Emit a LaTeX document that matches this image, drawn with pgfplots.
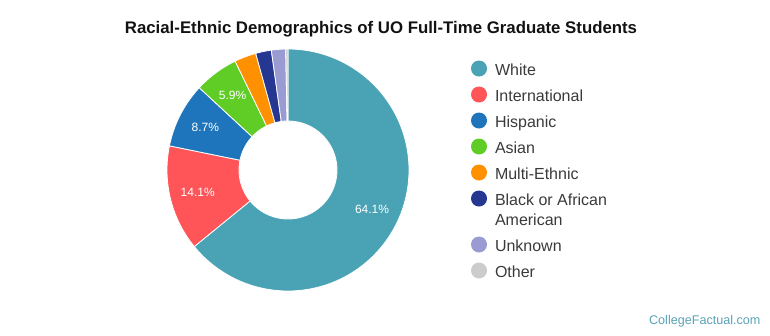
\documentclass[border=0pt]{standalone}
\usepackage{fontspec}
\setmainfont{Liberation Sans}
\usepackage{pgfplots}
\pgfplotsset{compat=1.18}
\definecolor{cWhite}{RGB}{74,163,181}
\definecolor{cIntl}{RGB}{255,84,88}
\definecolor{cHisp}{RGB}{31,117,188}
\definecolor{cAsian}{RGB}{96,204,38}
\definecolor{cMulti}{RGB}{255,145,0}
\definecolor{cBlack}{RGB}{38,55,145}
\definecolor{cUnk}{RGB}{155,155,212}
\definecolor{cOther}{RGB}{204,204,204}
\definecolor{legtext}{RGB}{58,58,58}
\definecolor{foot}{RGB}{90,162,182}
% cumulative percentages (values: 64.1, 14.1, 8.7, 5.9, 2.9, 2.1, 1.9, 0.3)
% slice: start%, end%, colour
\newcommand\slice[3]{%
  \addplot[fill=#3, draw=white, line width=0.8pt, variable=\t,
    samples at={0,1,...,100,100.001,101,102,...,200,201}]
  ({288+ifthenelse(or(\t<=100,\t>200.5),121,49)*sin(3.6*ifthenelse(\t<=100,#1+(#2-#1)*\t/100,ifthenelse(\t<=200.5,#2-(#2-#1)*(\t-100)/100,#1)))},
   {170-ifthenelse(or(\t<=100,\t>200.5),121,49)*cos(3.6*ifthenelse(\t<=100,#1+(#2-#1)*\t/100,ifthenelse(\t<=200.5,#2-(#2-#1)*(\t-100)/100,#1)))});
}
\newcommand\plabel[3]{%
  \node[text=white, font=\fontsize{12}{14}\selectfont, anchor=center]
    at (axis cs:{288+93*sin(1.8*(#1+#2))},{170-93*cos(1.8*(#1+#2))}) {#3};
}
\begin{document}
\begin{tikzpicture}
\begin{axis}[
  width=770pt, height=335pt, scale only axis,
  xmin=0, xmax=770, ymin=0, ymax=335, y dir=reverse,
  hide axis, clip=false,
  legend image code/.code={\fill[draw=none] (0pt,6.5pt) circle (8pt);},
  legend style={draw=none, fill=none, inner sep=0pt, outer sep=0pt,
    at={(axis cs:471,60)}, anchor=north west,
    row sep=7pt, column sep=8pt,
    font=\fontsize{16}{20}\selectfont, text=legtext,
    cells={anchor=base west},
    nodes={inner sep=0pt, outer sep=0pt, text height=15pt, text depth=4pt}},
]
\path (rel axis cs:0,0) rectangle (rel axis cs:1,1);
\slice{0}{64.1}{cWhite}
\addlegendentry{White}
\slice{64.1}{78.2}{cIntl}
\addlegendentry{International}
\slice{78.2}{86.9}{cHisp}
\addlegendentry{Hispanic}
\slice{86.9}{92.8}{cAsian}
\addlegendentry{Asian}
\slice{92.8}{95.7}{cMulti}
\addlegendentry{Multi-Ethnic}
\slice{95.7}{97.8}{cBlack}
\addlegendentry{Black or African}
\addlegendimage{empty legend}
\addlegendentry[text height=9pt]{American}
\slice{97.8}{99.7}{cUnk}
\addlegendentry{Unknown}
\slice{99.7}{100}{cOther}
\addlegendentry{Other}
\plabel{0}{64.1}{64.1\%}
\plabel{64.1}{78.2}{14.1\%}
\plabel{78.2}{86.9}{8.7\%}
\plabel{86.9}{92.8}{5.9\%}
\node[anchor=base, font=\bfseries\fontsize{16.8}{20}\selectfont, text=black!93]
  at (axis cs:381,33.5) {Racial-Ethnic Demographics of UO Full-Time Graduate Students};
\node[anchor=base east, font=\fontsize{12.6}{14}\selectfont, text=foot]
  at (axis cs:764,324.3) {CollegeFactual.com};
\end{axis}
\end{tikzpicture}
\end{document}
